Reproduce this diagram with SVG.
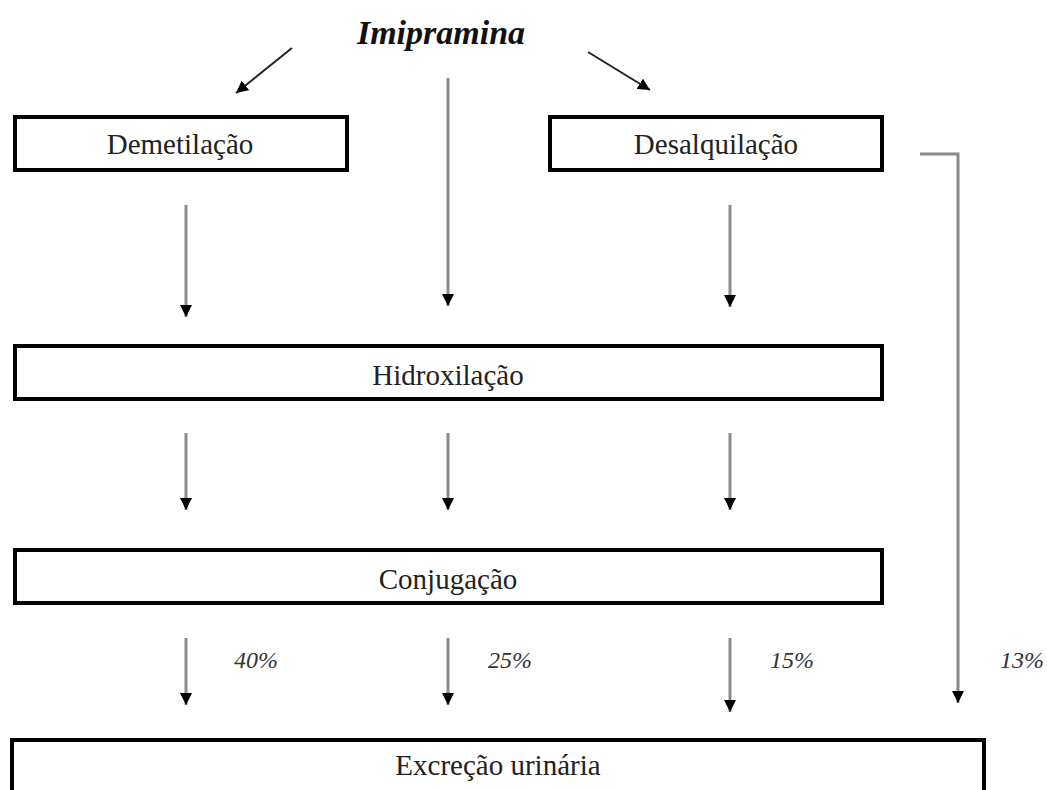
<svg xmlns="http://www.w3.org/2000/svg" width="1047" height="790" viewBox="0 0 1047 790">
<style>
.box{fill:#fff;stroke:#000;stroke-width:4}
.lbl{font-family:"Liberation Serif","Times New Roman",serif;font-size:29px;fill:#222;text-anchor:middle}
.pct{font-family:"Liberation Serif","Times New Roman",serif;font-size:24px;font-style:italic;fill:#333}
.conn{stroke:#8a8a8a;stroke-width:3;fill:none}
.diag{stroke:#222;stroke-width:2;fill:none}
</style>
<defs>
<marker id="ah" markerUnits="userSpaceOnUse" markerWidth="14" markerHeight="12" refX="12" refY="6" orient="auto">
<path d="M0,0 L12,6 L0,12 Z" fill="#000"/>
</marker>
</defs>
<rect width="1047" height="790" fill="#fff"/>
<g id="imipramina">
<text x="441" y="44" font-family="'Liberation Serif','Times New Roman',serif" font-size="34" font-weight="bold" font-style="italic" text-anchor="middle" fill="#111">Imipramina</text>
</g>
<g id="demetilacao">
<rect class="box" x="15" y="117" width="332" height="53"/>
<text class="lbl" x="180" y="154">Demetilação</text>
</g>
<g id="desalquilacao">
<rect class="box" x="550" y="117" width="332" height="53"/>
<text class="lbl" x="716" y="154">Desalquilação</text>
</g>
<g id="hidroxilacao">
<rect class="box" x="15" y="346" width="867" height="53"/>
<text class="lbl" x="448" y="385">Hidroxilação</text>
</g>
<g id="conjugacao">
<rect class="box" x="15" y="550" width="867" height="53"/>
<text class="lbl" x="448" y="589">Conjugação</text>
</g>
<g id="excrecao">
<rect class="box" x="12" y="740" width="972" height="70"/>
<text class="lbl" x="498" y="775">Excreção urinária</text>
</g>
<g id="connectors">
<line class="diag" x1="292" y1="48" x2="236" y2="93" marker-end="url(#ah)"/>
<line class="diag" x1="588" y1="52" x2="650" y2="90" marker-end="url(#ah)"/>
<line class="conn" x1="186" y1="205" x2="186" y2="317" marker-end="url(#ah)"/>
<line class="conn" x1="448" y1="78" x2="448" y2="306" marker-end="url(#ah)"/>
<line class="conn" x1="730" y1="205" x2="730" y2="307" marker-end="url(#ah)"/>
<line class="conn" x1="186" y1="433" x2="186" y2="510" marker-end="url(#ah)"/>
<line class="conn" x1="448" y1="433" x2="448" y2="510" marker-end="url(#ah)"/>
<line class="conn" x1="730" y1="433" x2="730" y2="510" marker-end="url(#ah)"/>
<line class="conn" x1="186" y1="638" x2="186" y2="705" marker-end="url(#ah)"/>
<line class="conn" x1="448" y1="638" x2="448" y2="705" marker-end="url(#ah)"/>
<line class="conn" x1="730" y1="638" x2="730" y2="712" marker-end="url(#ah)"/>
<polyline class="conn" points="920,154 958,154 958,703" marker-end="url(#ah)"/>
</g>
<g id="percentages">
<text class="pct" x="234" y="668">40%</text>
<text class="pct" x="488" y="668">25%</text>
<text class="pct" x="770" y="668">15%</text>
<text class="pct" x="1000" y="668">13%</text>
</g>
</svg>
